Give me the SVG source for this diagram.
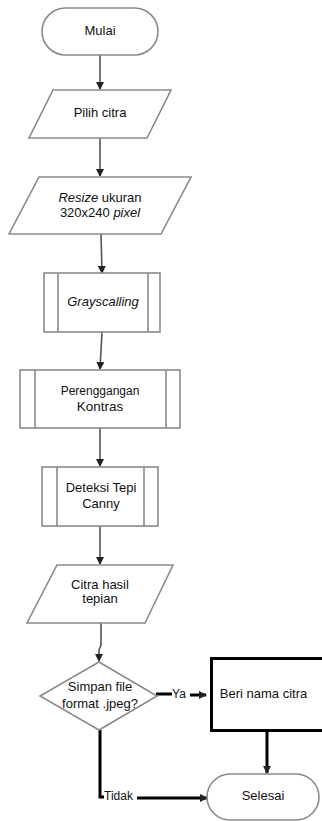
<svg xmlns="http://www.w3.org/2000/svg" width="322" height="821" viewBox="0 0 322 821">
<defs>
<style>
.s{fill:#fff;stroke:#8a8a8a;stroke-width:1.6}
.t{font-family:"Liberation Sans",Arial,sans-serif;font-size:13px;fill:#111;text-anchor:middle}
.i{font-style:italic}
.c{fill:none;stroke:#555;stroke-width:1.6}
.k{fill:none;stroke:#000;stroke-width:3}
</style>
<marker id="ah" markerWidth="8" markerHeight="8" refX="7" refY="4" orient="auto" markerUnits="userSpaceOnUse">
<path d="M0,0 L8,4 L0,8 z" fill="#222"/>
</marker>
</defs>
<rect width="322" height="821" fill="#fff"/>
<g id="connectors">
<line class="c" x1="100" y1="55" x2="100" y2="89" marker-end="url(#ah)"/>
<line class="c" x1="100" y1="138" x2="100" y2="176" marker-end="url(#ah)"/>
<line class="c" x1="101" y1="234" x2="102" y2="273" marker-end="url(#ah)"/>
<line class="c" x1="102" y1="332" x2="100" y2="369" marker-end="url(#ah)"/>
<line class="c" x1="100" y1="428" x2="100" y2="466" marker-end="url(#ah)"/>
<line class="c" x1="100" y1="526" x2="100" y2="564" marker-end="url(#ah)"/>
<polyline class="c" points="101,623 101,645 99,650 99,661" marker-end="url(#ah)"/>
<line class="k" x1="156" y1="694" x2="172" y2="694"/>
<line class="k" x1="190" y1="695" x2="206" y2="695" marker-end="url(#ah)"/>
<line class="k" x1="267" y1="731" x2="267" y2="773" marker-end="url(#ah)"/>
<polyline class="k" points="100,730 100,797 104,797"/>
<line class="k" x1="137" y1="798" x2="207" y2="798" marker-end="url(#ah)"/>
<text class="t" x="179" y="698" style="font-size:12px">Ya</text>
<text class="t" x="118.5" y="800" style="font-size:12px">Tidak</text>
</g>
<g id="mulai">
<rect class="s" x="42" y="8" width="116" height="47" rx="23.5"/>
<text class="t" x="100" y="35">Mulai</text>
</g>
<g id="pilih">
<polygon class="s" points="53,90 171,90 147,138 29,138"/>
<text class="t" x="100" y="117">Pilih citra</text>
</g>
<g id="resize">
<polygon class="s" points="39,177 191,177 161,234 9,234"/>
<text class="t" x="100" y="202"><tspan class="i">Resize</tspan> ukuran</text>
<text class="t" x="100" y="217">320x240 <tspan class="i">pixel</tspan></text>
</g>
<g id="gray">
<rect class="s" x="44" y="273" width="116" height="59"/>
<line class="s" x1="58" y1="273" x2="58" y2="332"/>
<line class="s" x1="148" y1="273" x2="148" y2="332"/>
<text class="t i" x="103" y="306">Grayscalling</text>
</g>
<g id="kontras">
<rect class="s" x="20" y="370" width="160" height="58"/>
<line class="s" x1="35" y1="370" x2="35" y2="428"/>
<line class="s" x1="166" y1="370" x2="166" y2="428"/>
<text class="t" x="100" y="395" style="font-size:12px">Perenggangan</text>
<text class="t" x="100" y="411" style="font-size:13.5px">Kontras</text>
</g>
<g id="canny">
<rect class="s" x="42" y="467" width="116" height="59"/>
<line class="s" x1="57" y1="467" x2="57" y2="526"/>
<line class="s" x1="144" y1="467" x2="144" y2="526"/>
<text class="t" x="101" y="492">Deteksi Tepi</text>
<text class="t" x="101" y="508">Canny</text>
</g>
<g id="hasil">
<polygon class="s" points="57,565 173,565 145,623 27,623"/>
<text class="t" x="100" y="589">Citra hasil</text>
<text class="t" x="100" y="603">tepian</text>
</g>
<g id="simpan">
<polygon class="s" points="99,662 157,696 99,730 40,696"/>
<text class="t" x="100" y="691">Simpan file</text>
<text class="t" x="100" y="708">format .jpeg?</text>
</g>
<g id="beri">
<rect x="211.5" y="658.5" width="114" height="72" fill="#fff" stroke="#000" stroke-width="3"/>
<text class="t" x="263.5" y="698">Beri nama citra</text>
</g>
<g id="selesai">
<rect class="s" x="207" y="774" width="112" height="46" rx="23"/>
<text class="t" x="263" y="800">Selesai</text>
</g>
</svg>
